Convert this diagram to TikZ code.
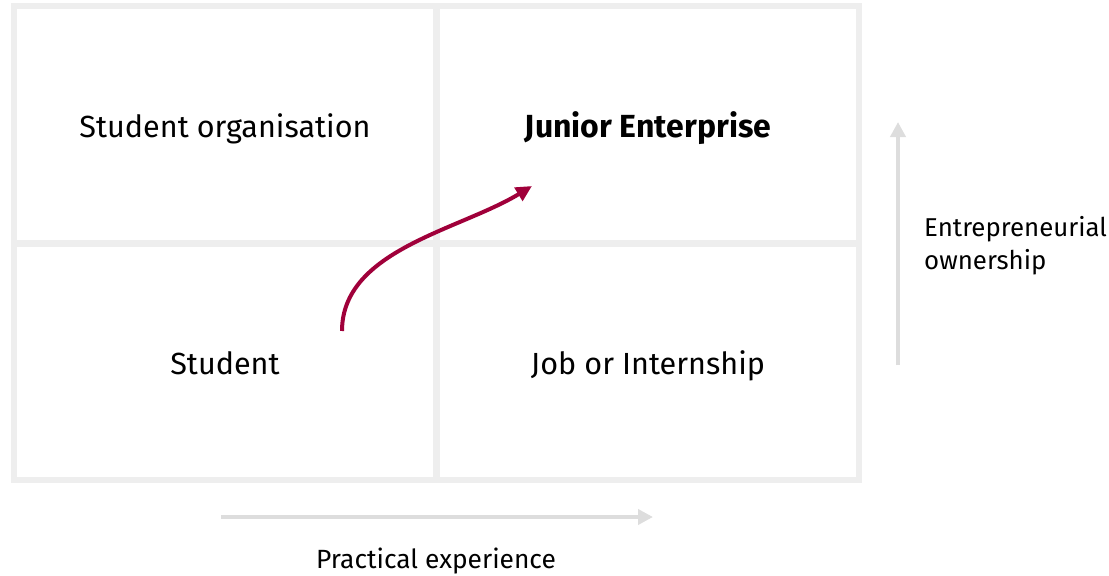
\documentclass[tikz,border=0pt]{standalone}
\usepackage{fontspec}
\setmainfont{Fira Sans}
\usepackage{tikz}
\usetikzlibrary{arrows.meta}
\definecolor{gridgray}{HTML}{EEEEEE}
\definecolor{axisgray}{HTML}{DDDDDD}
\definecolor{jered}{HTML}{A0003A}
\def\cellnode{\node[draw=gridgray,line width=0.12cm,minimum width=8.46cm,minimum height=4.74cm,inner sep=0pt,text height=0.6cm,text depth=0.1cm,font=\fontsize{17.4}{20}\selectfont]}
\def\drawaxis{\draw[color=axisgray, line width=0.08cm, -{Triangle[length=0.3cm,width=0.3cm]}]}

\begin{document}
\begin{tikzpicture}[x=0.02cm,y=-0.02cm]
\useasboundingbox (0,0) rectangle (1109,575);

% ---------- the four fields
\cellnode (org) at (225,124.5) {Student organisation};
\cellnode (je) at (648,124.5) {\fontsize{18.2}{20}\selectfont\textbf{Junior Enterprise}};
\cellnode (stud) at (225,362) {Student};
\cellnode (job) at (648,362) {Job or Internship};

% ---------- the two axes
\coordinate (xstart) at (221,517);
\coordinate (xend) at (653,517);
\drawaxis (xstart) to (xend);
\node[font=\fontsize{15}{18}\selectfont] (xlabel) at (436,561) {Practical experience};

\coordinate (ystart) at (898,365);
\coordinate (yend) at (898,122);
\drawaxis (ystart) to (yend);
\node[anchor=west,align=left,font=\fontsize{14.7}{18.8}\selectfont] (ylabel) at (918,246) {Entrepreneurial\\ownership};

% the way from student to junior enterprise
\coordinate (from) at (342,331);
\coordinate (to) at (532,186);
\draw[color=jered, line width=0.08cm, -{Triangle[length=0.32cm,width=0.3cm]}]
  (from) .. controls (342,250) and (460,230) .. (to);
\end{tikzpicture}
\end{document}
